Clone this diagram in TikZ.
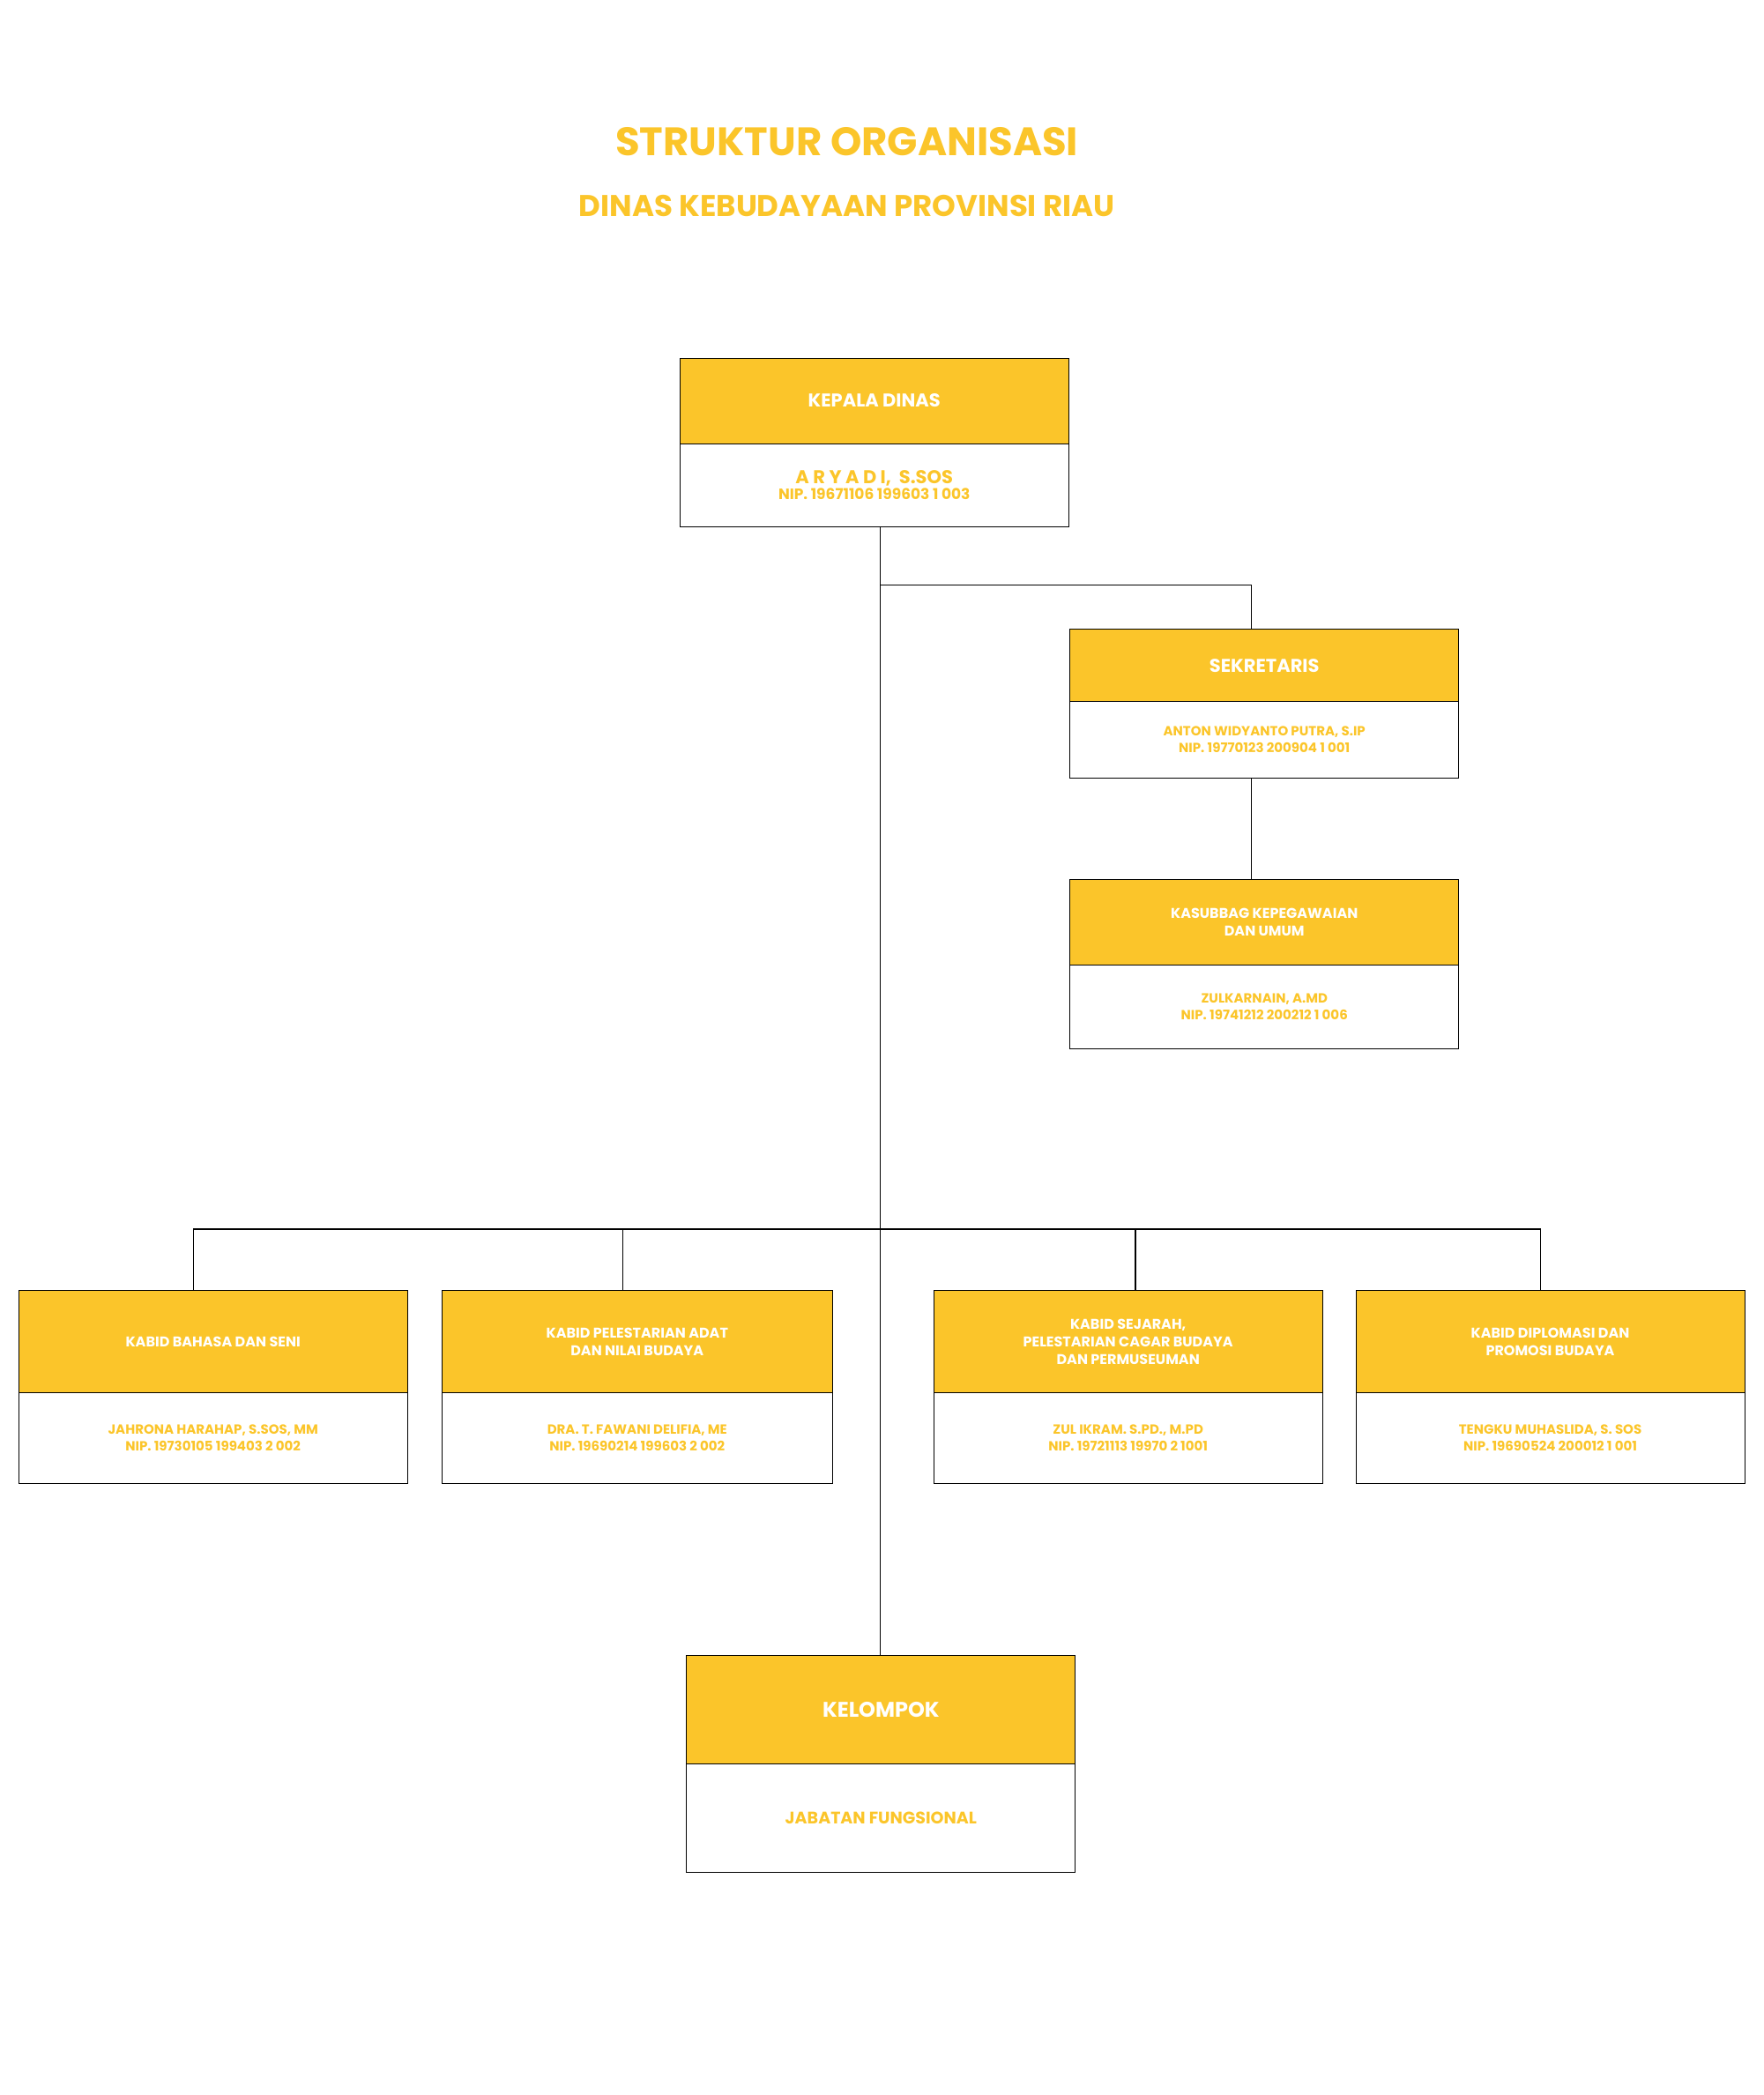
\documentclass[tikz,border=0pt]{standalone}
\usepackage{fontspec}
\setmainfont{Poppins}
\definecolor{gold}{HTML}{FBC52A}
\newcommand{\orgbox}[9]{%
  \node[boxst, minimum width={(#4-#2)*1.515pt}, minimum height={(#5-#3)*1.515pt}, anchor=north west] (#1) at (#2,#3) {};
  \fill[gold] (#2,#3) rectangle (#4,#6);
  \draw[line width=0.8pt] (#1.north west) rectangle (#1.south east);
  \draw[line width=0.5pt] (#2,#6) -- (#4,#6);
  \node[hdr, font=\fontsize{#9}{\dimexpr #9pt*5/4\relax}\selectfont\bfseries] (#1h) at ({(#2+#4)/2},{(#3+#6)/2}) {#7};
  \node[bod] (#1b) at ({(#2+#4)/2},{(#6+#5)/2}) {#8};
}
\begin{document}
\begin{tikzpicture}[x=1.515pt,y=-1.515pt,
  boxst/.style={draw=none, inner sep=0pt, outer sep=0pt},
  hdr/.style={text=white, align=center},
  bod/.style={text=gold, align=center, font=\fontsize{15}{19}\selectfont\bfseries},
  ln/.style={line width=1.2pt}]
\useasboundingbox (0,0) rectangle (1320,1568);
\node[text=gold, font=\fontsize{45}{50}\selectfont\bfseries] (t1) at (634,106) {STRUKTUR ORGANISASI};
\node[text=gold, font=\fontsize{34}{40}\selectfont\bfseries] (t2) at (634,154) {DINAS KEBUDAYAAN PROVINSI RIAU};
\orgbox{kep}{509}{268}{800}{394}{332}{KEPALA DINAS}{{\fontsize{21}{24}\selectfont A R Y A D I,\ \ S.SOS}\\[-1pt]{\fontsize{17}{20}\selectfont NIP. 19671106 199603 1 003}}{21}
\orgbox{sek}{801}{471}{1092}{582}{525}{SEKRETARIS}{ANTON WIDYANTO PUTRA, S.IP\\NIP. 19770123 200904 1 001}{21}
\orgbox{kas}{801}{658}{1092}{785}{722}{KASUBBAG KEPEGAWAIAN\\DAN UMUM}{ZULKARNAIN, A.MD\\NIP. 19741212 200212 1 006}{16}
\orgbox{b1}{14}{966}{305}{1110}{1042}{KABID BAHASA DAN SENI}{JAHRONA HARAHAP, S.SOS, MM\\NIP. 19730105 199403 2 002}{16}
\orgbox{b2}{331}{966}{623}{1110}{1042}{KABID PELESTARIAN ADAT\\DAN NILAI BUDAYA}{DRA. T. FAWANI DELIFIA, ME\\NIP. 19690214 199603 2 002}{16}
\orgbox{b3}{699}{966}{990}{1110}{1042}{KABID SEJARAH,\\PELESTARIAN CAGAR BUDAYA\\DAN PERMUSEUMAN}{ZUL IKRAM. S.PD., M.PD\\NIP. 19721113 19970 2 1001}{16}
\orgbox{b4}{1015}{966}{1306}{1110}{1042}{KABID DIPLOMASI DAN\\PROMOSI BUDAYA}{TENGKU MUHASLIDA, S. SOS\\NIP. 19690524 200012 1 001}{16}
\orgbox{kel}{514}{1239}{805}{1401}{1320}{KELOMPOK}{{\fontsize{19}{22}\selectfont JABATAN FUNGSIONAL}}{24}
\coordinate (ks) at (659,394);
\coordinate (j1) at (659,438);
\coordinate (j2) at (659,920);
\coordinate (kt) at (659,1239);
\draw[ln] (ks) -- (kt);
\draw[ln] (j1) -| (937,471);
\draw[ln] (937,582) -- (937,658);
\draw[ln] (145,966) |- (1153,920) -- (1153,966);
\draw[ln] (466,920) -- (466,966);
\draw[ln] (850,920) -- (850,966);
\end{tikzpicture}
\end{document}
